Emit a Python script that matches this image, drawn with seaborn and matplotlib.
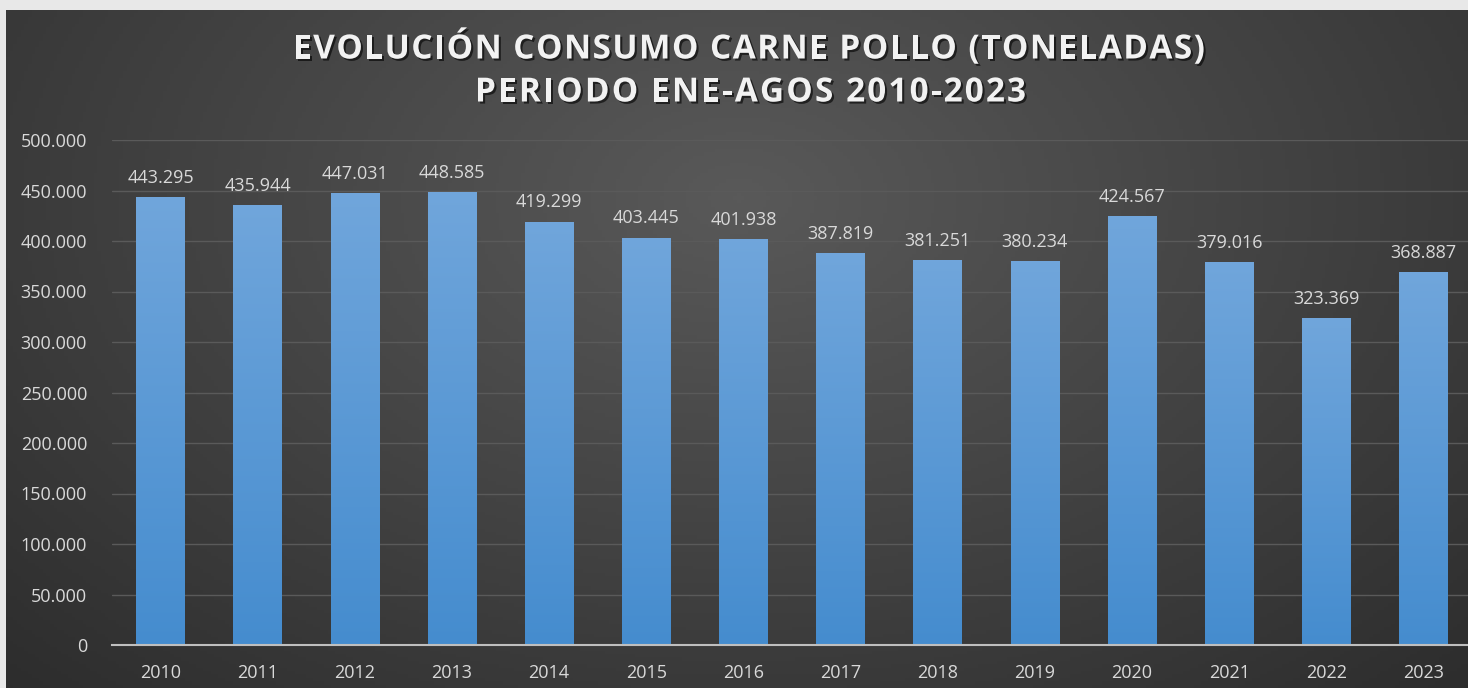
import numpy as np
import pandas as pd
import matplotlib
matplotlib.use("Agg")
import matplotlib.pyplot as plt
import matplotlib.patheffects as pe
from matplotlib.ticker import FuncFormatter
import seaborn as sns

years = ["2010", "2011", "2012", "2013", "2014", "2015", "2016",
         "2017", "2018", "2019", "2020", "2021", "2022", "2023"]
toneladas = [443295, 435944, 447031, 448585, 419299, 403445, 401938,
             387819, 381251, 380234, 424567, 379016, 323369, 368887]
y_ticks = [0, 50000, 100000, 150000, 200000, 250000, 300000, 350000, 400000, 450000, 500000]

title_lines = ["EVOLUCIÓN CONSUMO CARNE POLLO (TONELADAS)", "PERIODO ENE-AGOS 2010-2023"]


def miles(v):
    return f"{int(v):,}".replace(",", ".")


df = pd.DataFrame({"year": years, "t": toneladas})

sns.set_theme(style="dark")
plt.rcParams["font.family"] = ["Open Sans", "DejaVu Sans"]

W, H = 1468, 688
fig = plt.figure(figsize=(W / 100, H / 100), dpi=100)
fig.patch.set_facecolor("#e8e8e8")

# chart area with radial gradient
bg = fig.add_axes([6 / W, 0, 1 - 6 / W, 1 - 10 / H])
bg.set_axis_off()
yy, xx = np.mgrid[0:200, 0:400]
cx, cy = 200, 55
r = np.sqrt(((xx - cx) / 330) ** 2 + ((yy - cy) / 230) ** 2)
r = np.clip(r, 0, 1)
c0, c1 = np.array([0.35, 0.35, 0.35]), np.array([0.15, 0.15, 0.15])
img = c0[None, None, :] * (1 - r[..., None]) + c1[None, None, :] * r[..., None]
bg.imshow(img, aspect="auto", extent=[0, 1, 0, 1], origin="upper")
bg.set_xlim(0, 1)
bg.set_ylim(0, 1)

ax = fig.add_axes([112 / W, (H - 645) / H, (1472 - 112) / W, (645 - 140) / H])
ax.patch.set_alpha(0)

sns.barplot(data=df, x="year", y="t", ax=ax, color="#5b9bd5", width=0.5,
            edgecolor="none", zorder=3)

ax.set_ylim(0, 500000)
ax.set_yticks(y_ticks)
ax.yaxis.set_major_formatter(FuncFormatter(lambda v, p: miles(v)))
ax.grid(axis="y", color="#5a5a5a", linewidth=1, zorder=0)
ax.grid(axis="x", visible=False)
for s in ["top", "right", "left"]:
    ax.spines[s].set_visible(False)
ax.spines["bottom"].set_color("#bfbfbf")
ax.spines["bottom"].set_linewidth(1.5)
ax.spines["bottom"].set_zorder(5)
ax.tick_params(axis="both", colors="#d9d9d9", labelsize=13, length=0)
ax.tick_params(axis="x", pad=14)
ax.tick_params(axis="y", pad=18)
ax.set_xlabel("")
ax.set_ylabel("")

# gradient fill for each bar
grad = np.linspace(0, 1, 256)[:, None]
top_c, bot_c = np.array([0.44, 0.65, 0.86]), np.array([0.27, 0.55, 0.81])
gimg = top_c[None, None, :] * (1 - grad[..., None]) + bot_c[None, None, :] * grad[..., None]
for bar in ax.patches:
    x0, w, h = bar.get_x(), bar.get_width(), bar.get_height()
    im = ax.imshow(gimg, aspect="auto", extent=[x0, x0 + w, 0, h], zorder=4, origin="upper")
    im.set_clip_path(bar)
ax.set_xlim(-0.5, len(years) - 0.5)

for i, v in enumerate(toneladas):
    ax.text(i, v + 10000, miles(v), ha="center", va="bottom", color="#d9d9d9",
            fontsize=13, zorder=6)

# title with letter spacing, drawn character by character
renderer = fig.canvas.get_renderer()
shadow = [pe.withSimplePatchShadow(offset=(1.5, -1.5), shadow_rgbFace="black", alpha=0.6)]
tkw = dict(color="#f2f2f2", fontsize=24, fontweight="bold", va="center", ha="left",
           path_effects=shadow)
targets = [(50, 293, 1205), (93, 475, 1026)]
for line, (yc, x_left, x_right) in zip(title_lines, targets):
    widths = []
    for ch in line:
        t = fig.text(0, 0, ch.replace(" ", "\u00a0"), **tkw)
        widths.append(t.get_window_extent(renderer).width)
        t.remove()
    spacing = ((x_right - x_left) - sum(widths)) / (len(line) - 1)
    x = x_left
    for ch, w in zip(line, widths):
        fig.text(x / W, 1 - yc / H, ch, **tkw)
        x += w + spacing

fig.savefig("out.png", dpi=100, facecolor=fig.get_facecolor())
